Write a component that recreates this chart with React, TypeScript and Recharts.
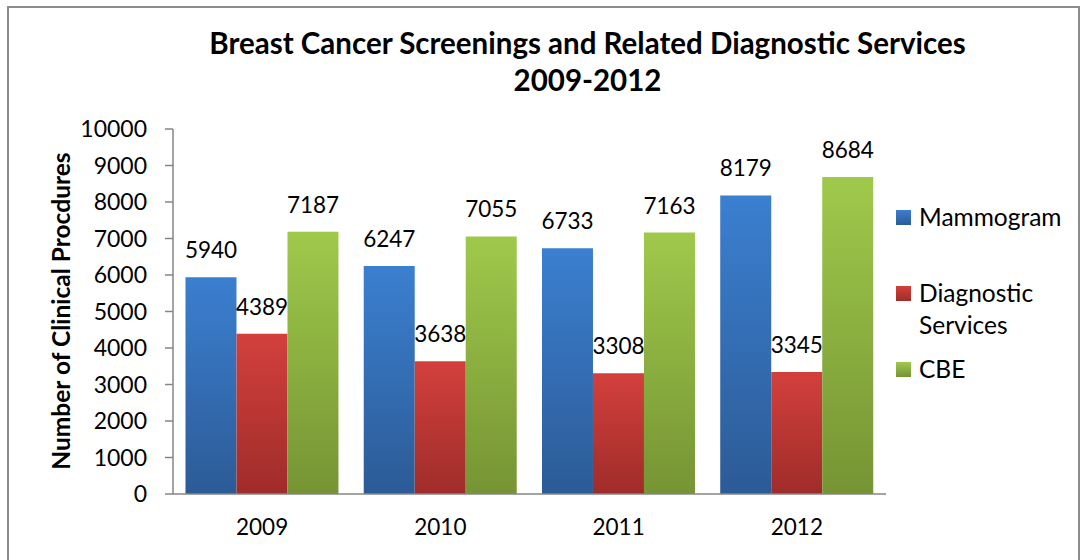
import React from "react";
import { BarChart, Bar, XAxis, YAxis, Legend, LabelList } from "recharts";

const years = ["2009", "2010", "2011", "2012"];
const mammogram = [5940, 6247, 6733, 8179];
const diagnostic = [4389, 3638, 3308, 3345];
const cbe = [7187, 7055, 7163, 8684];
const yTicks = [0, 1000, 2000, 3000, 4000, 5000, 6000, 7000, 8000, 9000, 10000];

const series = [
  { key: "mammogram", name: "Mammogram", grad: "gBlue", top: "#3b7fd0", bottom: "#2c5b96" },
  { key: "diagnostic", name: "Diagnostic Services", grad: "gRed", top: "#d3403c", bottom: "#9f2c2a" },
  { key: "cbe", name: "CBE", grad: "gGreen", top: "#9fc94b", bottom: "#769434" },
];

const data = years.map((y, i) => ({
  year: y,
  mammogram: mammogram[i],
  diagnostic: diagnostic[i],
  cbe: cbe[i],
}));

const FONT = "Lato, 'Open Sans', sans-serif";

const renderLegend = () => (
  <div style={{ fontFamily: FONT, fontSize: 24.5, color: "#000", lineHeight: "32px", paddingLeft: 10, marginTop: 0 }}>
    {series.map((s, i) => (
      <div
        key={s.key}
        style={{ display: "flex", alignItems: "flex-start", marginBottom: i === 0 ? 44 : i === 1 ? 12 : 0 }}
      >
        <div
          style={{
            width: 15,
            height: 15,
            marginTop: 9,
            marginRight: 8,
            flexShrink: 0,
            background: `linear-gradient(${s.top}, ${s.bottom})`,
          }}
        />
        <div style={{ width: 150 }}>
          {s.name === "Diagnostic Services" ? (
            <>
              Diagnostic
              <br />
              Services
            </>
          ) : (
            s.name
          )}
        </div>
      </div>
    ))}
  </div>
);

export default function App() {
  return (
    <div
      style={{
        position: "absolute",
        left: 0,
        top: 0,
        width: 1081,
        height: 560,
        overflow: "hidden",
        background: "#fff",
        fontFamily: FONT,
      }}
    >
      <div
        style={{
          position: "absolute",
          left: 7,
          top: 6,
          width: 1069,
          height: 600,
          border: "2px solid #8c8c8c",
        }}
      />
      <div
        style={{
          position: "absolute",
          left: 0,
          top: 24,
          width: 1175,
          textAlign: "center",
          fontWeight: 700,
          fontSize: 29.5,
          lineHeight: "37px",
          color: "#000",
        }}
      >
        Breast Cancer Screenings and Related Diagnostic Services
        <br />
        2009-2012
      </div>
      <div
        style={{
          position: "absolute",
          left: 60,
          top: 311,
          transform: "translate(-50%, -50%) rotate(-90deg)",
          whiteSpace: "nowrap",
          fontWeight: 700,
          fontSize: 24.5,
          color: "#000",
        }}
      >
        Number of Clinical Procdures
      </div>
      <div style={{ position: "absolute", left: 0, top: 0 }}>
        <BarChart
          width={1081}
          height={560}
          data={data}
          margin={{ top: 129, right: 15, bottom: 26, left: 73 }}
          barCategoryGap="7%"
          barGap={0}
        >
          <defs>
            {series.map((s) => (
              <linearGradient key={s.grad} id={s.grad} x1="0" y1="0" x2="0" y2="1">
                <stop offset="0%" stopColor={s.top} />
                <stop offset="100%" stopColor={s.bottom} />
              </linearGradient>
            ))}
          </defs>
          <XAxis
            dataKey="year"
            height={40}
            axisLine={{ stroke: "#868686", strokeWidth: 1.5 }}
            tickLine={false}
            tickSize={0}
            tickMargin={25}
            tick={{ fill: "#000", fontSize: 22.5, fontFamily: FONT }}
          />
          <YAxis
            width={100}
            domain={[0, 10000]}
            ticks={yTicks}
            interval={0}
            axisLine={{ stroke: "#868686", strokeWidth: 1.5 }}
            tickLine={{ stroke: "#868686", strokeWidth: 1.5 }}
            tickSize={8}
            tickMargin={18}
            tick={{ fill: "#000", fontSize: 23, fontFamily: FONT }}
          />
          <Legend
            content={renderLegend}
            layout="vertical"
            align="right"
            verticalAlign="middle"
            wrapperStyle={{ width: 180, height: 200, left: 886, top: 201 }}
          />
          {series.map((s) => (
            <Bar
              key={s.key}
              dataKey={s.key}
              name={s.name}
              fill={`url(#${s.grad})`}
              isAnimationActive={false}
            >
              <LabelList
                dataKey={s.key}
                position="top"
                offset={19}
                style={{ fill: "#000", fontSize: 22.5, fontFamily: FONT }}
              />
            </Bar>
          ))}
        </BarChart>
      </div>
    </div>
  );
}
